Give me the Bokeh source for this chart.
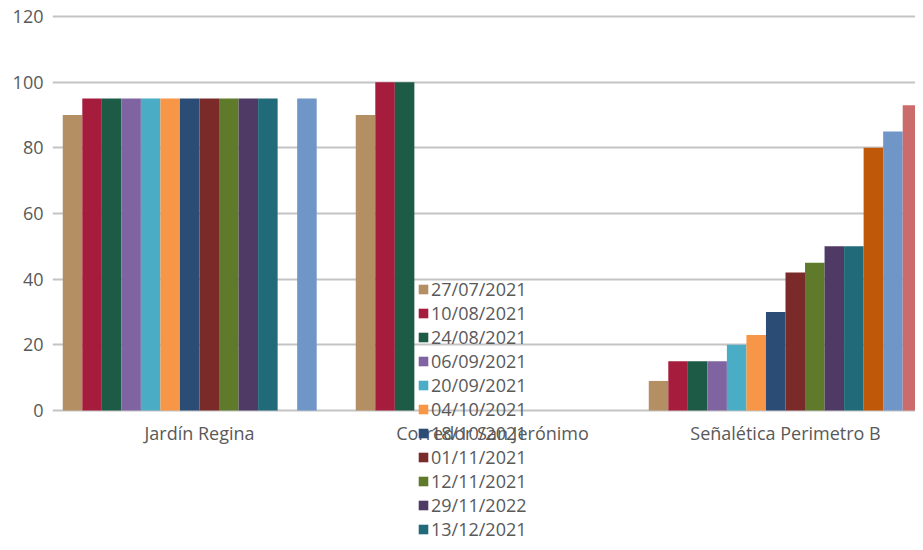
from bokeh.plotting import figure
from bokeh.models import Range1d, Legend, LegendItem, ColumnDataSource, FixedTicker
from bokeh.core.properties import value
from bokeh.embed import file_html
from bokeh.resources import INLINE

categories = ["Jardín Regina", "Corredor San Jerónimo", "Señalética Perimetro B"]
series_names = ["27/07/2021", "10/08/2021", "24/08/2021", "06/09/2021", "20/09/2021",
                "04/10/2021", "18/10/2021", "01/11/2021", "12/11/2021", "29/11/2022",
                "13/12/2021", "Serie 12", "Serie 13", "Serie 14"]
jardin_regina = [90, 95, 95, 95, 95, 95, 95, 95, 95, 95, 95, None, 95, None]
corredor_san_jeronimo = [90, 100, 100, None, None, None, None, None, None, None, None, None, None, None]
senaletica_perimetro_b = [9, 15, 15, 15, 20, 23, 30, 42, 45, 50, 50, 80, 85, 93]
colors = ["#B38F63", "#A51C3C", "#1E5B47", "#8064A2", "#4BACC6", "#F79646", "#2B4C74",
          "#7B2A2A", "#5E7A2A", "#4E3A64", "#216A7A", "#C0580A", "#7096C8", "#CC6B6B"]
y_ticks = [0, 20, 40, 60, 80, 100, 120]
legend_count = 11

FONT = "Open Sans"
TXT = "#595959"
FS = "18px"

n = len(series_names)
slot = 1.0 / (n + 1)

p = figure(width=915, height=542, output_backend="svg", toolbar_location=None,
           x_range=Range1d(-0.5017, 2.4437), y_range=Range1d(-40.2, 124.87),
           min_border_left=52, min_border_right=0, min_border_top=0, min_border_bottom=0)
p.outline_line_color = None
p.background_fill_color = "white"
p.xaxis.visible = False

values_by_cat = [jardin_regina, corredor_san_jeronimo, senaletica_perimetro_b]
renderers = []
for i, name in enumerate(series_names):
    xs, tops = [], []
    for c, vals in enumerate(values_by_cat):
        if vals[i] is not None:
            xs.append(c + (i - (n - 1) / 2) * slot)
            tops.append(vals[i])
    src = ColumnDataSource(dict(x=xs, top=tops))
    r = p.vbar(x="x", top="top", width=slot, bottom=0, source=src,
               fill_color=colors[i], line_color=None)
    renderers.append(r)

# category labels under the zero line
cat_src = ColumnDataSource(dict(x=list(range(len(categories))), y=[-7.0] * len(categories),
                                t=categories))
p.text(x="x", y="y", text="t", source=cat_src, text_align="center", text_baseline="middle",
       text_font=value(FONT), text_font_size=FS, text_color=TXT)

p.xgrid.grid_line_color = None
p.ygrid.grid_line_color = "#C4C4C4"
p.ygrid.grid_line_width = 2
p.ygrid.ticker = FixedTicker(ticks=y_ticks)

p.yaxis.ticker = FixedTicker(ticks=y_ticks)
p.yaxis.axis_line_color = None
p.yaxis.major_tick_line_color = None
p.yaxis.minor_tick_line_color = None
p.yaxis.major_tick_out = 0
p.yaxis.major_tick_in = 0
p.yaxis.major_label_text_font = FONT
p.yaxis.major_label_text_font_size = FS
p.yaxis.major_label_text_color = TXT
p.yaxis.major_label_standoff = 9

items = [LegendItem(label=series_names[i], renderers=[renderers[i]]) for i in range(legend_count)]
legend = Legend(items=items, location=(365, 1), orientation="vertical",
                background_fill_alpha=0, border_line_alpha=0,
                label_text_font=FONT, label_text_font_size=FS, label_text_color=TXT,
                label_text_line_height=1.0,
                glyph_width=12, glyph_height=12, label_height=24, spacing=0,
                label_standoff=2, padding=0, margin=0)
p.add_layout(legend, "center")

open("out.html", "w").write(file_html(p, INLINE))
